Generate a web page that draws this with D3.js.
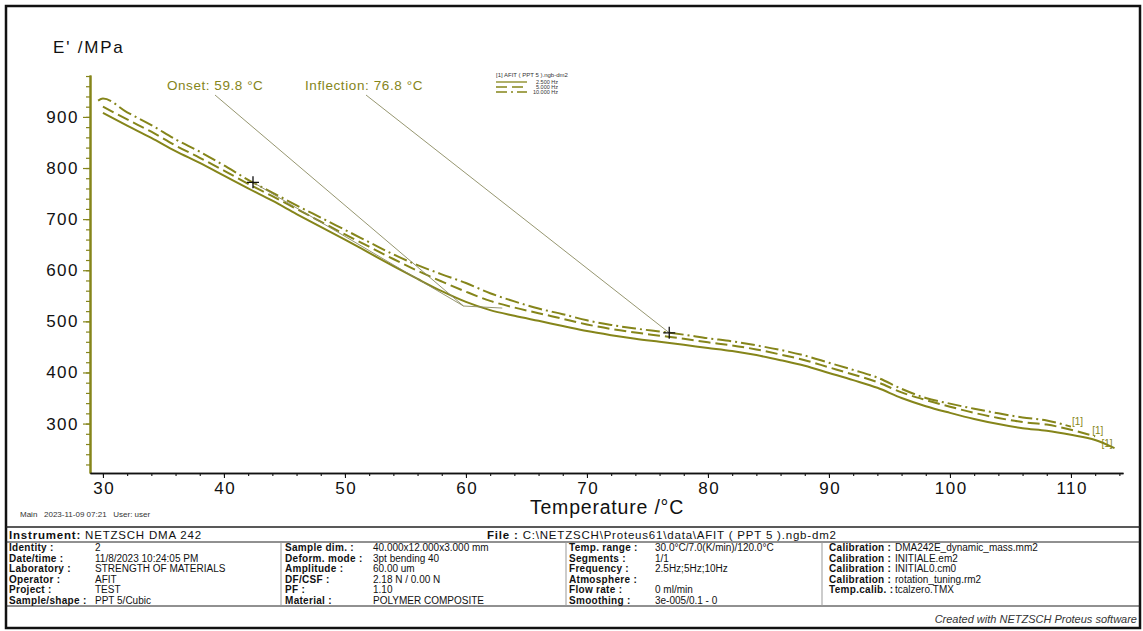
<!DOCTYPE html>
<html>
<head>
<meta charset="utf-8">
<script src="https://cdn.jsdelivr.net/npm/d3@7"></script>
<style>
  html, body { margin: 0; padding: 0; background: #fff; }
  svg { display: block; font-family: "Liberation Sans", Arial, sans-serif; }
</style>
</head>
<body>
<svg id="chart" width="1143" height="631"></svg>
<script>
// ---- Storage modulus E' (MPa) vs temperature, three frequencies ----
const temps = [29.6, 30, 32, 34, 36, 38, 40, 42, 44, 46, 48, 50, 52, 54, 56, 58, 60, 62, 64, 66, 68, 70,
  72, 74, 76, 78, 80, 82, 84, 86, 88, 90, 92, 94, 96, 98, 100, 102, 104, 106, 108, 110, 112, 113.6];

const e2p5Hz = [null, 908, 883, 859, 833, 810, 785, 760, 736, 710, 685, 660, 634, 608, 583, 559, 538, 522, 511, 501, 491, 481,
  473, 466, 460, 454, 448, 442, 434, 424, 413, 399, 385, 370, 350, 334, 321, 309, 299, 291, 286, 278, 268, 252];

const e5Hz = [null, 920, 895, 871, 844, 820, 795, 769, 745, 720, 695, 670, 646, 622, 599, 578, 558, 540, 527, 516, 505, 494,
  485, 478, 472, 466, 459, 453, 445, 435, 424, 410, 396, 381, 361, 346, 333, 321, 311, 303, 298, 288, 275, null];

const e10Hz = [932, 936, 909, 884, 856, 832, 805, 777, 752, 727, 703, 679, 655, 631, 610, 592, 575, 555, 539, 525, 514, 502,
  493, 486, 480, 474, 467, 461, 453, 444, 433, 419, 405, 390, 368, 350, 339, 329, 320, 312, 306, 294, null, null];

const seriesNames = ["2.500 Hz", "5.000 Hz", "10.000 Hz"];

// Axis ticks
const yMajor = [300, 400, 500, 600, 700, 800, 900];
const yMinor = d3.range(220, 981, 20);
const xMajor = [30, 40, 50, 60, 70, 80, 90, 100, 110];
const xMinor = d3.range(30, 115, 2);

// Evaluation results
const onsetTemp = 59.8;
const onsetModulus = 530;          // tangent intersection
const tangentStartTemp = 42.4;     // start of the glassy-region tangent
const tangentEnd = [63, 526];      // end of the transition tangent
const inflectionTemp = 76.8;

// Measurement header table
const col1Labels = ["Identity :", "Date/time :", "Laboratory :", "Operator :", "Project :", "Sample/shape :"];
const col1Values = ["2", "11/8/2023 10:24:05 PM", "STRENGTH OF MATERIALS", "AFIT", "TEST", "PPT 5/Cubic"];
const col2Labels = ["Sample dim. :", "Deform. mode :", "Amplitude :", "DF/CSF :", "PF :", "Material :"];
const col2Values = ["40.000x12.000x3.000 mm", "3pt bending 40", "60.00 um", "2.18 N / 0.00 N", "1.10", "POLYMER COMPOSITE"];
const col3Labels = ["Temp. range :", "Segments :", "Frequency :", "Atmosphere :", "Flow rate :", "Smoothing :"];
const col3Values = ["30.0°C/7.0(K/min)/120.0°C", "1/1", "2.5Hz;5Hz;10Hz", "", "0 ml/min", "3e-005/0.1 - 0"];
const col4Labels = ["Calibration :", "Calibration :", "Calibration :", "Calibration :", "Temp.calib. :"];
const col4Values = ["DMA242E_dynamic_mass.mm2", "INITIALE.em2", "INITIAL0.cm0", "rotation_tuning.rm2", "tcalzero.TMX"];

// ---- drawing ----
const svg = d3.select("#chart");
const olive = "#85851a";
const thin = "#8a8a60";

const x = d3.scaleLinear().domain([28.93, 114.3]).range([90, 1123]);
const y = d3.scaleLinear().domain([203.3, 982]).range([473, 75]);

// outer frame
svg.append("rect").attr("x", 6).attr("y", 6).attr("width", 1134).attr("height", 622)
  .attr("fill", "none").attr("stroke", "#111").attr("stroke-width", 2.5);

// Y axis (minor then major)
const yMinorAxis = svg.append("g").attr("transform", "translate(90,0)")
  .call(d3.axisLeft(y).tickValues(yMinor).tickSize(4).tickSizeOuter(0).tickFormat(""));
const yAxis = svg.append("g").attr("transform", "translate(90,0)")
  .call(d3.axisLeft(y).tickValues(yMajor).tickSize(7).tickSizeOuter(0).tickPadding(4).tickFormat(d3.format("d")));
[yMinorAxis, yAxis].forEach(g => {
  g.select(".domain").attr("stroke", olive).attr("stroke-width", 2);
  g.selectAll(".tick line").attr("stroke", olive).attr("stroke-width", 1.2);
});
yAxis.selectAll(".tick text").attr("font-size", 17).attr("letter-spacing", 1.5).attr("fill", "#111")
  .attr("font-family", "Liberation Sans, Arial, sans-serif");

// X axis
const xMinorAxis = svg.append("g").attr("transform", "translate(0,473)")
  .call(d3.axisBottom(x).tickValues(xMinor).tickSize(3).tickSizeOuter(0).tickFormat(""));
const xAxis = svg.append("g").attr("transform", "translate(0,473)")
  .call(d3.axisBottom(x).tickValues(xMajor).tickSize(5).tickSizeOuter(0).tickPadding(4).tickFormat(d3.format("d")));
[xMinorAxis, xAxis].forEach(g => {
  g.select(".domain").attr("stroke", "#111").attr("stroke-width", 1.6);
  g.selectAll(".tick line").attr("stroke", "#111").attr("stroke-width", 1.1);
});
xAxis.selectAll(".tick text").attr("font-size", 17).attr("letter-spacing", 1.5).attr("dx", 0.75).attr("fill", "#111")
  .attr("font-family", "Liberation Sans, Arial, sans-serif");

// axis titles
svg.append("text").attr("x", 53).attr("y", 53).attr("font-size", 17).attr("letter-spacing", 1.8)
  .attr("fill", "#111").text("E' /MPa");
svg.append("text").attr("x", 607).attr("y", 514).attr("text-anchor", "middle")
  .attr("font-size", 19.5).attr("letter-spacing", 0.8).attr("fill", "#111").text("Temperature /°C");

// curves
const line = d3.line()
  .defined(d => d[1] != null)
  .x(d => x(d[0])).y(d => y(d[1]))
  .curve(d3.curveMonotoneX);

const series = [
  { values: e2p5Hz, dash: null },
  { values: e5Hz, dash: "12,5" },
  { values: e10Hz, dash: "14,4,2,4" }
];

series.forEach(s => {
  const pts = temps.map((t, i) => [t, s.values[i]]);
  svg.append("path").attr("d", line(pts))
    .attr("fill", "none").attr("stroke", olive).attr("stroke-width", 2)
    .attr("stroke-dasharray", s.dash);
});

// "[1]" tags at the curve ends
const lastPoint = vals => {
  let i = vals.length - 1;
  while (vals[i] == null) i--;
  return [temps[i], vals[i]];
};
const tagOffsets = [[-13, -1], [-3, -2], [1, -2]];
series.forEach((s, k) => {
  const [t, v] = lastPoint(s.values);
  svg.append("text").attr("x", x(t) + tagOffsets[k][0]).attr("y", y(v) + tagOffsets[k][1])
    .attr("font-size", 10).attr("fill", olive).text("[1]");
});

// value of a series at a temperature (linear between stored points)
function valueAt(vals, t) {
  for (let i = 0; i < temps.length - 1; i++) {
    if (t >= temps[i] && t <= temps[i + 1] && vals[i] != null && vals[i + 1] != null) {
      const f = (t - temps[i]) / (temps[i + 1] - temps[i]);
      return vals[i] + f * (vals[i + 1] - vals[i]);
    }
  }
  return null;
}

const startPt = [x(tangentStartTemp), y(valueAt(e10Hz, tangentStartTemp))];
const onsetPt = [x(onsetTemp), y(onsetModulus)];
const inflPt = [x(inflectionTemp), y(valueAt(e10Hz, inflectionTemp))];

// tangent construction for the onset
svg.append("path")
  .attr("d", d3.line()([startPt, onsetPt, [x(tangentEnd[0]), y(tangentEnd[1])]]))
  .attr("fill", "none").attr("stroke", thin).attr("stroke-width", 0.9);

// annotation labels and leader lines
svg.append("text").attr("x", 167).attr("y", 90).attr("font-size", 13.5).attr("letter-spacing", 0.55)
  .attr("fill", olive).text(`Onset: ${onsetTemp.toFixed(1)} °C`);
svg.append("text").attr("x", 305).attr("y", 90).attr("font-size", 13.5).attr("letter-spacing", 0.6)
  .attr("fill", olive).text(`Inflection: ${inflectionTemp.toFixed(1)} °C`);
svg.append("line").attr("x1", 215).attr("y1", 95).attr("x2", onsetPt[0]).attr("y2", onsetPt[1])
  .attr("stroke", thin).attr("stroke-width", 0.9);
svg.append("line").attr("x1", 366).attr("y1", 95).attr("x2", inflPt[0]).attr("y2", inflPt[1])
  .attr("stroke", thin).attr("stroke-width", 0.9);

// cross markers
[startPt, inflPt].forEach(([cx, cy]) => {
  svg.append("path").attr("d", `M${cx - 6},${cy}H${cx + 6}M${cx},${cy - 6}V${cy + 6}`)
    .attr("stroke", "#111").attr("stroke-width", 1.3);
});

// legend
const lg = svg.append("g").attr("transform", "translate(496,72)");
lg.append("text").attr("x", 0).attr("y", 5).attr("font-size", 6).attr("fill", "#333")
  .text("[1] AFIT ( PPT 5 ).ngb-dm2");
series.forEach((s, k) => {
  const yy = 10 + k * 5;
  lg.append("line").attr("x1", 0).attr("x2", 31).attr("y1", yy).attr("y2", yy)
    .attr("stroke", olive).attr("stroke-width", 1.3).attr("stroke-dasharray", s.dash ? (k === 1 ? "11,5" : "11,4,2,4") : null);
  lg.append("text").attr("x", 62).attr("y", yy + 2).attr("text-anchor", "end")
    .attr("font-size", 5.5).attr("fill", "#333").text(seriesNames[k]);
});

// ---- header footer ----
svg.append("text").attr("x", 20).attr("y", 517).attr("font-size", 8).attr("fill", "#333")
  .attr("xml:space", "preserve").text("Main   2023-11-09 07:21   User: user");

const hl = (yy, w) => svg.append("line").attr("x1", 6).attr("x2", 1140).attr("y1", yy).attr("y2", yy)
  .attr("stroke", "#222").attr("stroke-width", w);
hl(527, 1.5); hl(542, 1); hl(606, 1);

[281, 566, 822].forEach(xx => svg.append("line").attr("x1", xx).attr("x2", xx).attr("y1", 542).attr("y2", 606)
  .attr("stroke", "#999").attr("stroke-width", 1));

const tf = 10;
svg.append("text").attr("x", 9).attr("y", 538.5).attr("font-size", 11.5).attr("letter-spacing", 0.8).attr("fill", "#111")
  .html('<tspan font-weight="bold">Instrument:</tspan> NETZSCH DMA 242');
svg.append("text").attr("x", 487).attr("y", 538.5).attr("font-size", 11.5).attr("letter-spacing", 0.8).attr("fill", "#111")
  .html('<tspan font-weight="bold">File :</tspan> C:\\NETZSCH\\Proteus61\\data\\AFIT ( PPT 5 ).ngb-dm2');

function column(labels, values, lx, vx) {
  labels.forEach((lab, i) => {
    const yy = 551 + i * 10.6;
    svg.append("text").attr("x", lx).attr("y", yy).attr("font-size", tf).attr("font-weight", "bold")
      .attr("letter-spacing", 0.3).attr("fill", "#111").text(lab);
    svg.append("text").attr("x", vx).attr("y", yy).attr("font-size", tf).attr("fill", "#111").text(values[i]);
  });
}
column(col1Labels, col1Values, 9, 95);
column(col2Labels, col2Values, 285, 373);
column(col3Labels, col3Values, 569, 655);
column(col4Labels, col4Values, 829, 895);

svg.append("text").attr("x", 1137).attr("y", 623).attr("text-anchor", "end")
  .attr("font-size", 11).attr("font-style", "italic").attr("fill", "#333")
  .text("Created with NETZSCH Proteus software");
</script>
</body>
</html>
